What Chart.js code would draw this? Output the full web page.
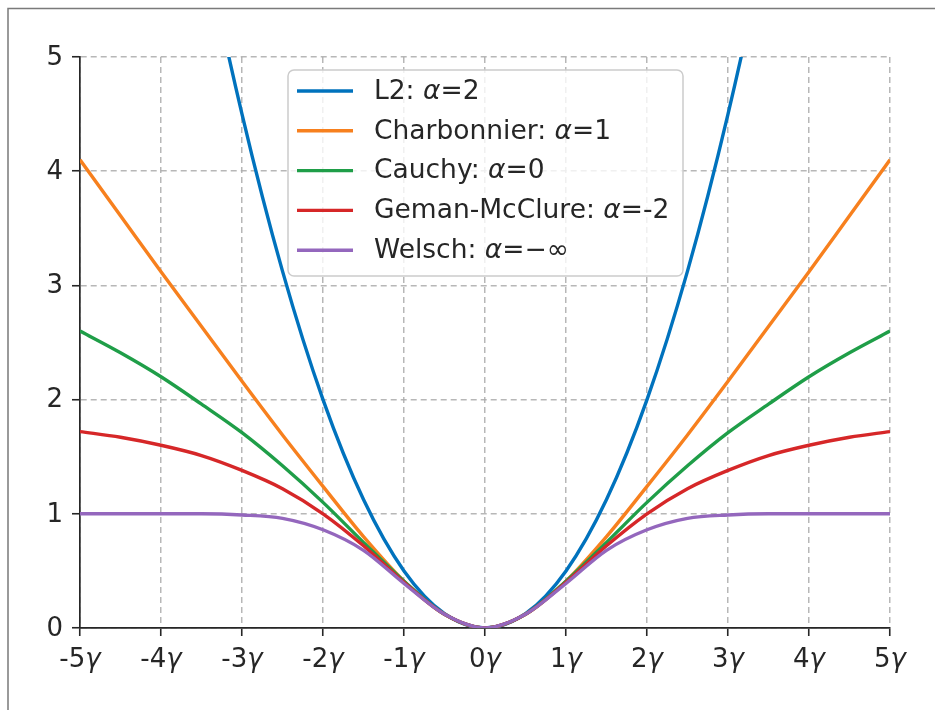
<!DOCTYPE html>
<html>
<head>
<meta charset="utf-8">
<title>Robust loss functions</title>
<script src="https://cdn.jsdelivr.net/npm/chart.js@4.4.1/dist/chart.umd.min.js"></script>
<style>
  html, body { margin: 0; padding: 0; background: #fff; }
  canvas { display: block; }
</style>
</head>
<body>
<canvas id="lossChart" width="935" height="710"></canvas>
<script>
// x positions (in units of gamma)
const xValues = [-5, -4.5, -4, -3.5, -3, -2.5, -2, -1.5, -1, -0.5, 0, 0.5, 1, 1.5, 2, 2.5, 3, 3.5, 4, 4.5, 5];

// loss values for each curve
const l2Loss = [12.5, 10.125, 8, 6.125, 4.5, 3.125, 2, 1.125, 0.5, 0.125, 0, 0.125, 0.5, 1.125, 2, 3.125, 4.5, 6.125, 8, 10.125, 12.5];
const charbonnierLoss = [4.1, 3.61, 3.12, 2.64, 2.16, 1.69, 1.24, 0.8, 0.41, 0.12, 0, 0.12, 0.41, 0.8, 1.24, 1.69, 2.16, 2.64, 3.12, 3.61, 4.1];
const cauchyLoss = [2.6, 2.41, 2.2, 1.96, 1.71, 1.42, 1.1, 0.75, 0.41, 0.12, 0, 0.12, 0.41, 0.75, 1.1, 1.42, 1.71, 1.96, 2.2, 2.41, 2.6];
const gemanLoss = [1.72, 1.67, 1.6, 1.51, 1.38, 1.22, 1.0, 0.72, 0.4, 0.12, 0, 0.12, 0.4, 0.72, 1.0, 1.22, 1.38, 1.51, 1.6, 1.67, 1.72];
const welschLoss = [1.0, 1.0, 1.0, 1.0, 0.99, 0.96, 0.86, 0.68, 0.39, 0.12, 0, 0.12, 0.39, 0.68, 0.86, 0.96, 0.99, 1.0, 1.0, 1.0, 1.0];

// legend text
const seriesNames = ['L2', 'Charbonnier', 'Cauchy', 'Geman-McClure', 'Welsch'];
const alphaLabels = ['2', '1', '0', '-2', '\u2212\u221e'];
const seriesColors = ['#0072bd', '#f7801e', '#1f9e48', '#d62728', '#9467bd'];

// tick labels
const xTickLabels = ['-5', '-4', '-3', '-2', '-1', '0', '1', '2', '3', '4', '5'];
const yTickLabels = ['0', '1', '2', '3', '4', '5'];

const seriesValues = [l2Loss, charbonnierLoss, cauchyLoss, gemanLoss, welschLoss];
const textColor = '#262626';
const FONT = '"DejaVu Sans", sans-serif';

const datasets = seriesValues.map((vals, i) => ({
  label: seriesNames[i],
  data: xValues.map((x, j) => ({ x: x, y: vals[j] })),
  borderColor: seriesColors[i],
  backgroundColor: seriesColors[i],
  borderWidth: 3.4,
  pointRadius: 0,
  fill: false,
  cubicInterpolationMode: 'monotone',
  order: seriesValues.length - i
}));

// outer frame, tick labels and legend
const decorations = {
  id: 'decorations',
  beforeDraw(chart) {
    const ctx = chart.ctx;
    ctx.save();
    ctx.strokeStyle = '#7a7a7a';
    ctx.lineWidth = 1.5;
    ctx.beginPath();
    ctx.moveTo(8, 710);
    ctx.lineTo(8, 8.5);
    ctx.lineTo(935, 8.5);
    ctx.stroke();
    ctx.restore();
  },
  afterDraw(chart) {
    const ctx = chart.ctx;
    const xs = chart.scales.x, ys = chart.scales.y;
    ctx.save();
    ctx.fillStyle = textColor;

    // y tick labels
    ctx.font = '26px ' + FONT;
    ctx.textAlign = 'right';
    ctx.textBaseline = 'middle';
    yTickLabels.forEach(t => {
      ctx.fillText(t, 63, ys.getPixelForValue(Number(t)) + 1);
    });

    // x tick labels: number + italic gamma
    ctx.textBaseline = 'alphabetic';
    ctx.textAlign = 'left';
    xTickLabels.forEach(t => {
      ctx.font = '26px ' + FONT;
      const w1 = ctx.measureText(t).width;
      ctx.font = 'italic 26px ' + FONT;
      const w2 = ctx.measureText('\u03b3').width;
      const left = xs.getPixelForValue(Number(t)) - (w1 + w2) / 2;
      ctx.font = '26px ' + FONT;
      ctx.fillText(t, left, 667);
      ctx.font = 'italic 26px ' + FONT;
      ctx.fillText('\u03b3', left + w1, 667);
    });

    // legend box
    const bx = 288, by = 70, bw = 395, bh = 206, r = 6;
    ctx.beginPath();
    ctx.moveTo(bx + r, by);
    ctx.arcTo(bx + bw, by, bx + bw, by + bh, r);
    ctx.arcTo(bx + bw, by + bh, bx, by + bh, r);
    ctx.arcTo(bx, by + bh, bx, by, r);
    ctx.arcTo(bx, by, bx + bw, by, r);
    ctx.closePath();
    ctx.fillStyle = 'rgba(255,255,255,0.8)';
    ctx.fill();
    ctx.strokeStyle = '#cccccc';
    ctx.lineWidth = 1.5;
    ctx.stroke();

    seriesNames.forEach((name, i) => {
      const cy = 91 + i * 39.8;
      ctx.strokeStyle = seriesColors[i];
      ctx.lineWidth = 3.4;
      ctx.beginPath();
      ctx.moveTo(297, cy);
      ctx.lineTo(353, cy);
      ctx.stroke();

      ctx.fillStyle = textColor;
      ctx.textBaseline = 'middle';
      let x = 374;
      const parts = [
        [name + ': ', '26.5px ' + FONT],
        ['\u03b1', 'italic 26.5px ' + FONT],
        ['=' + alphaLabels[i], '26.5px ' + FONT]
      ];
      parts.forEach(([txt, font]) => {
        ctx.font = font;
        ctx.fillText(txt, x, cy + 1);
        x += ctx.measureText(txt).width;
      });
    });
    ctx.restore();
  }
};

const gridColor = 'rgba(170,170,170,0.85)';

new Chart(document.getElementById('lossChart'), {
  type: 'line',
  data: { datasets: datasets },
  options: {
    responsive: false,
    animation: false,
    devicePixelRatio: 1,
    layout: { padding: { left: 0, top: 57, right: 45, bottom: 0 } },
    plugins: {
      legend: { display: false },
      tooltip: { enabled: false }
    },
    scales: {
      x: {
        type: 'linear',
        min: -5,
        max: 5,
        ticks: { display: false, stepSize: 1 },
        grid: {
          color: gridColor,
          lineWidth: 1.5,
          tickLength: 8,
          tickColor: textColor,
          tickWidth: 1.6
        },
        border: { display: true, color: textColor, width: 1.7, dash: [6, 4] },
        afterFit(scale) { scale.height = 82; }
      },
      y: {
        type: 'linear',
        min: 0,
        max: 5,
        ticks: { display: false, stepSize: 1 },
        grid: {
          color: gridColor,
          lineWidth: 1.5,
          tickLength: 8,
          tickColor: textColor,
          tickWidth: 1.6
        },
        border: { display: true, color: textColor, width: 1.7, dash: [6, 4] },
        afterFit(scale) { scale.width = 80; }
      }
    }
  },
  plugins: [decorations]
});
</script>
</body>
</html>
